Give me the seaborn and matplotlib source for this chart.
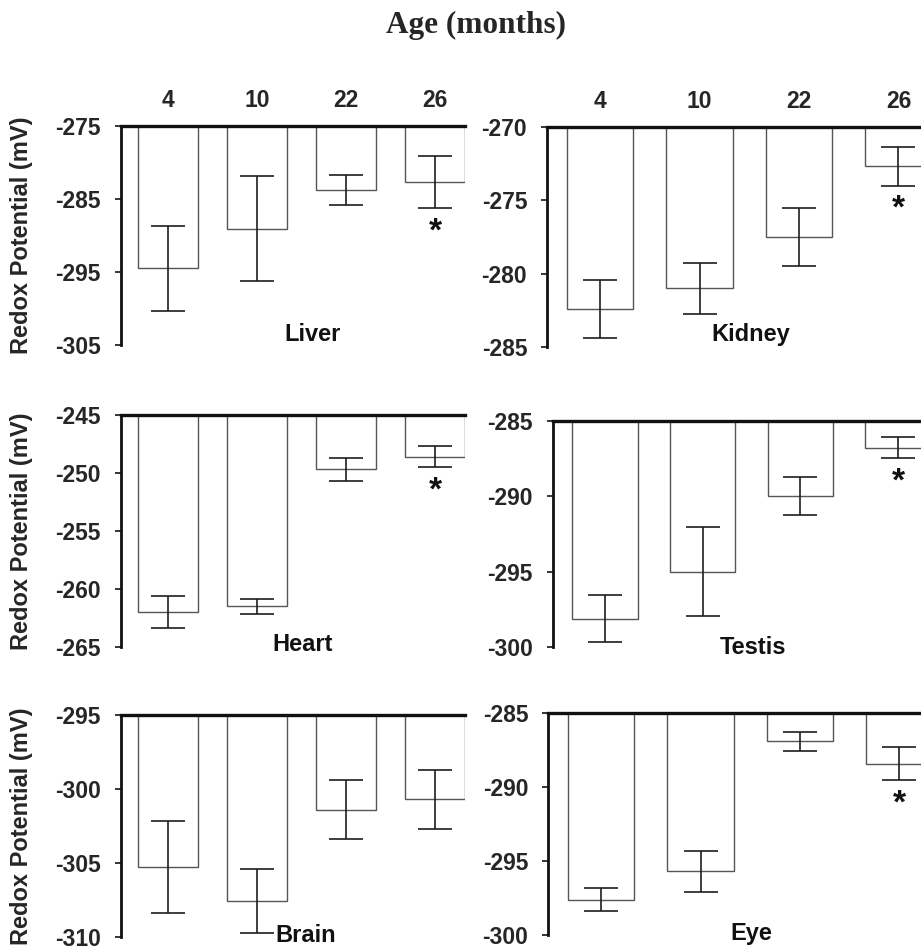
import matplotlib
matplotlib.use("Agg")
import matplotlib.pyplot as plt
import seaborn as sns
import numpy as np

# ---------------- data ----------------
ages = ["4", "10", "22", "26"]

liver_mean = [-294.5, -289.1, -283.8, -282.7]
liver_sem = [5.8, 7.2, 2.1, 3.6]
liver_sig = [False, False, False, True]

kidney_mean = [-282.4, -281.0, -277.5, -272.7]
kidney_sem = [2.0, 1.75, 1.95, 1.3]
kidney_sig = [False, False, False, True]

heart_mean = [-262.0, -261.5, -249.7, -248.6]
heart_sem = [1.35, 0.65, 1.0, 0.9]
heart_sig = [False, False, False, True]

testis_mean = [-298.1, -295.0, -290.0, -286.8]
testis_sem = [1.55, 2.95, 1.25, 0.7]
testis_sig = [False, False, False, True]

brain_mean = [-305.3, -307.6, -301.4, -300.7]
brain_sem = [3.1, 2.15, 2.0, 2.0]
brain_sig = [False, False, False, False]

eye_mean = [-297.6, -295.7, -286.9, -288.4]
eye_sem = [0.8, 1.4, 0.65, 1.1]
eye_sig = [False, False, False, True]

liver_ticks = [-275, -285, -295, -305]
kidney_ticks = [-270, -275, -280, -285]
heart_ticks = [-245, -250, -255, -260, -265]
testis_ticks = [-285, -290, -295, -300]
brain_ticks = [-295, -300, -305, -310]
eye_ticks = [-285, -290, -295, -300]

title = "Age (months)"
ylabel = "Redox Potential (mV)"

# ---------------- style ----------------
sns.set_style("white")
plt.rcParams["font.family"] = ["Liberation Sans", "DejaVu Sans"]
plt.rcParams["font.weight"] = "bold"

W, H = 921, 950
fig = plt.figure(figsize=(W / 100, H / 100), dpi=100)
fig.patch.set_facecolor("white")


def px_axes(left, right, top, bottom):
    return fig.add_axes([left / W, 1 - bottom / H, (right - left) / W, (bottom - top) / H])


panels = [
    # name, mean, sem, sig, ticks, (left,right,top,bottom) px, label pos (axes frac), top labels, ylabel
    ("Liver", liver_mean, liver_sem, liver_sig, liver_ticks, (121, 465, 125.7, 345.0), (0.557, 0.05), True, True),
    ("Kidney", kidney_mean, kidney_sem, kidney_sig, kidney_ticks, (547.3, 931.8, 126.7, 347.3), (0.53, 0.06), True, False),
    ("Heart", heart_mean, heart_sem, heart_sig, heart_ticks, (121, 465, 415.0, 646.7), (0.529, 0.01), False, True),
    ("Testis", testis_mean, testis_sem, testis_sig, testis_ticks, (553.0, 931.0, 420.7, 647.3), (0.53, 0.0), False, False),
    ("Brain", brain_mean, brain_sem, brain_sig, brain_ticks, (121, 465, 715.0, 936.7), (0.538, 0.005), False, True),
    ("Eye", eye_mean, eye_sem, eye_sig, eye_ticks, (548.3, 932.8, 713.3, 935.0), (0.527, 0.005), False, False),
]

for name, mean, sem, sig, ticks, box, lpos, top_labels, show_ylabel in panels:
    ax = px_axes(*box)
    sns.barplot(x=ages, y=mean, order=ages, color="white", edgecolor="#555555",
                linewidth=1.0, width=0.67, errorbar=None, ax=ax)
    xs = np.arange(len(ages))
    ax.errorbar(xs, mean, yerr=sem, fmt="none", ecolor="#1e1e1e",
                elinewidth=1.2, capsize=12.5, capthick=1.2, zorder=5)
    for xi, m, s, g in zip(xs, mean, sem, sig):
        if g:
            ax.annotate("*", xy=(xi, m - s), xytext=(0, -6), textcoords="offset points",
                        ha="center", va="top", fontsize=24, fontweight="bold", color="#111111")
    ax.set_xlim(-0.53, 3.335)
    ax.set_ylim(min(ticks), max(ticks))
    ax.set_yticks(ticks)
    ax.set_yticklabels([str(t) for t in ticks], fontsize=16.5, fontweight="bold")
    ax.tick_params(axis="y", direction="out", length=4.5, width=1.3, pad=10, left=True)
    if top_labels:
        ax.xaxis.tick_top()
        ax.set_xticks(xs)
        ax.set_xticklabels(ages, fontsize=16.5, fontweight="bold")
        ax.tick_params(axis="x", length=0, pad=10)
    else:
        ax.set_xticks([])
    ax.set_xlabel("")
    if show_ylabel:
        ax.set_ylabel(ylabel, fontsize=17, fontweight="bold")
        ax.yaxis.set_label_coords(-0.256, 0.5)
    else:
        ax.set_ylabel("")
    for sp in ["right", "bottom"]:
        ax.spines[sp].set_visible(False)
    ax.spines["top"].set_linewidth(2.4)
    ax.spines["left"].set_linewidth(2.0)
    ax.spines["top"].set_color("#111111")
    ax.spines["left"].set_color("#111111")
    ax.set_facecolor("none")
    ax.text(lpos[0], lpos[1], name, transform=ax.transAxes, ha="center", va="center",
            fontsize=17, fontweight="bold", color="#111111")

fig.text(476 / W, 1 - 25 / H, title, ha="center", va="center", fontsize=22.5,
         fontweight="bold", family=["Liberation Serif", "DejaVu Serif"])

fig.savefig("out.png", dpi=100, facecolor="white")
